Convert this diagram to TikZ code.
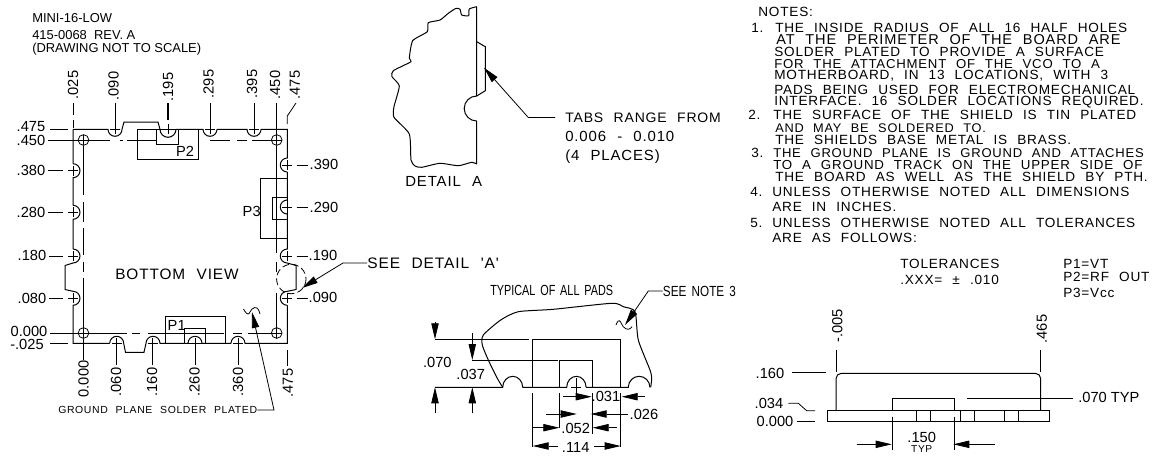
\documentclass[tikz,border=0pt]{standalone}
\usepackage{fontspec}
\usepackage{tikz}
\usetikzlibrary{arrows.meta}
\setmainfont{Liberation Sans}
\newfontfamily\cadfont[FakeStretch=1.02,LetterSpace=6,WordSpace=2.2]{Liberation Sans}
\newfontfamily\cadnarrow[FakeStretch=0.74,WordSpace=1.6]{Liberation Sans}
\newfontfamily\cadmid[FakeStretch=0.8,WordSpace=1.6]{Liberation Sans}
\tikzset{%
    outline/.style={line width=0.75pt},
    dimline/.style={line width=0.6pt},
    leader/.style={line width=0.6pt,-{Triangle[length=12pt,width=5.5pt]}},
    num/.style={inner sep=0pt,font=\fontsize{11}{11}\selectfont},
    numup/.style={num,rotate=90},
    cad/.style={anchor=west,inner sep=0pt,font=\cadfont\fontsize{#1}{#1}\selectfont},
    cad/.default=10,
    cadsmall/.style={anchor=west,inner sep=0pt,font=\cadnarrow\fontsize{11}{11}\selectfont},
    heading/.style={anchor=west,inner sep=0pt,font=\fontsize{9.7}{9.7}\selectfont},
}
\newcommand{\padcross}[2]{%
    \draw[dimline] (#1-5,#2)--(#1+5,#2);
    \draw[dimline] (#1,#2-5)--(#1,#2+5);
}
\begin{document}
\begin{tikzpicture}[x=0.75pt,y=-0.75pt]
    \useasboundingbox (0,0) rectangle (1154,455);
    % heading
    \node[heading] (title1) at (32,18) {MINI-16-LOW};
    \node[heading] (title2) at (32,35) {415-0068\ \ REV. A};
    \node[heading] (title3) at (32,49) {(DRAWING NOT TO SCALE)};

    % board outline, bottom view
    \draw[outline] (73,129.3)--(108,129.3) arc[start angle=180,end angle=0,radius=7]
        (122,129.3)--(124,122)--(158,122)--(160,129.3) arc[start angle=180,end angle=0,radius=8]
        (176,129.3)--(203,129.3) arc[start angle=180,end angle=0,radius=7]
        (217,129.3)--(247,129.3) arc[start angle=180,end angle=0,radius=7]
        (261,129.3)--(287.3,129.3)--(287.3,158) arc[start angle=270,end angle=90,radius=7]
        (287.3,172)--(287.3,200) arc[start angle=270,end angle=90,radius=7]
        (287.3,214)--(287.3,249) arc[start angle=270,end angle=90,radius=7]
        (287.3,263)--(296,265.5)--(296,289.5)--(287.3,291.3) arc[start angle=270,end angle=90,radius=7]
        (287.3,305.3)--(287.3,343.3)--(245,343.3) arc[start angle=0,end angle=-180,radius=7]
        (231,343.3)--(202,343.3) arc[start angle=0,end angle=-180,radius=7]
        (188,343.3)--(160,343.3) arc[start angle=0,end angle=-180,radius=7]
        (146,343.3)--(144,352.3)--(125.5,352.3)--(123.7,343.3) arc[start angle=0,end angle=-180,radius=7]
        (109.7,343.3)--(73,343.3)--(73,305.3) arc[start angle=90,end angle=-90,radius=7]
        (73,291.3)--(65,289.5)--(65,265.5)--(73,263) arc[start angle=90,end angle=-90,radius=7]
        (73,249)--(73,219.3) arc[start angle=90,end angle=-90,radius=7]
        (73,205.3)--(73,177.7) arc[start angle=90,end angle=-90,radius=7]
        (73,163.7)--(73,129.3);
    % inner lines
    \draw[dimline] (48,140)--(78,140) (89,140)--(110,140) (120,140)--(123,140) (127,140)--(157,140)
        (210,140)--(230,140) (237,140)--(247,140) (252,140)--(271,140);
    \draw[dimline] (83.5,145.5)--(83.5,195) (83.5,202)--(83.5,222) (83.5,228)--(83.5,255) (83.5,262)--(83.5,272) (83.5,278)--(83.5,327.5);
    \draw[dimline] (276.7,103)--(276.7,134.5) (276.7,145.5)--(276.7,253) (276.7,262)--(276.7,272) (276.7,293)--(276.7,327.5);
    \draw[dimline] (50,333)--(78,333) (89,333)--(127,333) (132,333)--(140,333) (148,333)--(224,333) (233,333)--(242,333) (248,333)--(271,333);
    \draw[dimline] (83.5,338.5)--(83.5,360);
    % corner holes
    \node[circle,draw,line width=0.6pt,minimum size=8pt,inner sep=0pt] (holeA) at (83.5,140) {};
    \node[circle,draw,line width=0.6pt,minimum size=8pt,inner sep=0pt] (holeB) at (276.7,140) {};
    \node[circle,draw,line width=0.6pt,minimum size=8pt,inner sep=0pt] (holeC) at (83.5,333) {};
    \node[circle,draw,line width=0.6pt,minimum size=8pt,inner sep=0pt] (holeD) at (276.7,333) {};
    \padcross{83.5}{140} \padcross{276.7}{140} \padcross{83.5}{333} \padcross{276.7}{333}
    % half hole crosses
    \padcross{115}{129.3} \padcross{168}{129.3} \padcross{210.3}{129.3} \padcross{254}{129.3}
    \padcross{73}{170.7} \padcross{73}{212.3} \padcross{73}{256} \padcross{73}{298.3}
    \padcross{287.3}{165} \padcross{287.3}{207} \padcross{287.3}{256} \padcross{287.3}{298.3}
    \padcross{116.7}{343.3} \padcross{152.7}{343.3} \padcross{195}{343.3} \padcross{238}{343.3}
    % pad boxes
    \draw[outline] (137.3,129.3) rectangle (198.3,159.3);
    \draw[outline] (156.7,129.3) rectangle (178.3,144.3);
    \draw[outline] (260.7,178.3) rectangle (287.3,238.3);
    \draw[outline] (272.3,197.7) rectangle (287.3,219);
    \draw[outline] (165,316.7) rectangle (225,343.3);
    \draw[outline] (184.3,328.3) rectangle (205.7,343.3);
    \node[num] (pP2) at (185,151.7) {P2};
    \node[num] (pP3) at (251.7,211.7) {P3};
    \node[num] (pP1) at (176.7,325) {P1};
    % top dimensions
    \draw[dimline] (73,103)--(73,115) (73,120)--(73,128);
    \draw[dimline] (115,103)--(115,124) (210.3,103)--(210.3,124) (254,103)--(254,124);
    \draw[line width=1.1pt] (168,103)--(168,120);
    \draw[dimline] (296,103)--(287.3,116)--(287.3,124);
    \node[numup] (t025) at (73,85) {.025};
    \node[numup] (t090) at (113.5,86) {.090};
    \node[numup] (t195) at (168,87) {.195};
    \node[numup] (t295) at (208.5,84) {.295};
    \node[numup] (t395) at (252,84) {.395};
    \node[numup] (t450) at (275,85) {.450};
    \node[numup] (t475) at (295,85) {.475};
    % left dimensions
    \draw[dimline] (50,129.3)--(68,129.3) (48,170.7)--(63,170.7) (48,212.3)--(63,212.3) (49,256)--(63,256) (49,298.3)--(63,298.3) (50,343.3)--(68,343.3);
    \node[num] (l475) at (31,127) {.475};
    \node[num] (l450) at (31,140) {.450};
    \node[num] (l380) at (31,170) {.380};
    \node[num] (l280) at (31,212) {.280};
    \node[num] (l180) at (32,255) {.180};
    \node[num] (l080) at (32,298) {.080};
    \node[num] (l000) at (29,331) {0.000};
    \node[num] (l025) at (27,344) {-.025};
    % right dimensions
    \draw[dimline] (296.7,165)--(308,165) (296.7,207)--(308,207) (296.7,256)--(308,256) (296.7,298.3)--(308,298.3);
    \node[num] (r390) at (324,164) {.390};
    \node[num] (r290) at (324,207) {.290};
    \node[num] (r190) at (323,255) {.190};
    \node[num] (r090) at (323,297) {.090};
    % bottom dimensions
    \draw[dimline] (116.7,348)--(116.7,365) (152.7,348)--(152.7,365) (195,348)--(195,365) (238,348)--(238,365) (287.3,350)--(287.3,366);
    \node[numup] (b000) at (83.5,379) {0.000};
    \node[numup] (b060) at (116,382) {.060};
    \node[numup] (b160) at (152,382) {.160};
    \node[numup] (b260) at (194.5,382) {.260};
    \node[numup] (b360) at (238,382) {.360};
    \node[numup] (b475) at (288,383) {.475};
    % view labels
    \node[cad=11.3] (bottomview) at (115,274) {BOTTOM VIEW};
    \node[cad=7.7] (groundplane) at (58,410) {GROUND PLANE SOLDER PLATED};
    \draw[leader] (groundplane.east)--(274,410)--(252,312);
    \draw[dimline] plot[smooth,tension=0.8] coordinates {(243.5,309) (248,314) (252,309) (257,308) (260,314)};
    \draw[dimline,dash pattern=on 5pt off 2.5pt] (291.3,279) circle (14.7);
    \node[cad=11.4] (seedetail) at (367,263) {SEE DETAIL 'A'};
    \draw[leader] (seedetail.west)--(343,263)--(302,288);

    % detail A
    \draw[outline] plot[smooth,tension=0.35] coordinates {(476.7,6.7) (469.3,9) (468.7,15.7) (461.7,15) (460,9.3) (456,8.3) (448.3,13.3) (440,20) (428.3,22.7) (427.3,31.7) (412.7,40.7) (409.3,58.3) (411,61.7) (393.3,70.7) (392,76.7) (399.3,86) (394,106.7) (394,117.3) (409.3,134) (411,160) (415,166) (421.7,167.3) (440,163.3) (458.3,165.7) (471.7,162.3) (476.7,164)};
    \draw[outline] (476.7,6.7)--(476.7,96) arc[start angle=270,end angle=90,radius=12.5]
        (476.7,121)--(476.7,164);
    \draw[outline] (476.7,41.7)--(485.3,46.7)--(485.3,90.7)--(476.7,96);
    \node[cad=10.3] (tabs1) at (565,118) {TABS RANGE FROM};
    \node[cad=11] (tabs2) at (565,136.7) {0.006 - 0.010};
    \node[cad=11] (tabs3) at (565,156.7) {(4 PLACES)};
    \draw[leader] (555,117.5)--(528.3,117.5)--(484,67.7);
    \node[cad=11] (detaila) at (405,181.7) {DETAIL A};

    % typical pad
    \node[cadsmall] (typical) at (490,290) {TYPICAL OF ALL PADS};
    \node[cadsmall,font=\cadmid\fontsize{11}{11}\selectfont] (seenote) at (662.7,291) {SEE NOTE 3};
    \draw[leader] (seenote.west)--(648.3,291)--(625,325);
    \draw[dimline] plot[smooth,tension=0.8] coordinates {(616,325) (619.3,320.7) (623.3,326.7) (628.3,329.3) (632,326.7)};
    \draw[outline] plot[smooth,tension=0.4] coordinates {(502.7,387.3) (497.3,378.3) (488.3,360) (482.3,345) (483.3,335) (500.7,320) (518.3,311.7) (553.3,309.3) (611.7,303.3) (623.3,306.7) (635,311.7) (638.3,340) (650,370) (651.7,378.3) (650.7,387.3)};
    \draw[outline] (435,387.3)--(502.7,387.3) arc[start angle=180,end angle=360,x radius=10,y radius=11]
        (522.7,387.3)--(566.7,387.3) arc[start angle=180,end angle=360,x radius=9.7,y radius=11]
        (586,387.3)--(628.3,387.3) arc[start angle=180,end angle=360,x radius=10.8,y radius=11];
    \draw[outline] (532.7,387.3)--(532.7,339.3)--(620.7,339.3)--(620.7,387.3);
    \draw[outline] (559.3,387.3)--(559.3,360)--(592.7,360)--(592.7,387.3);
    \draw[dimline] (435,339.3)--(529,339.3) (472.3,360)--(558,360);
    \draw[dimline] (576.3,378)--(576.3,398) (571,387.3)--(581,387.3);
    \draw[dimline] (532.7,393)--(532.7,447) (620.7,393)--(620.7,447) (592.7,393)--(592.7,434) (559.3,393)--(559.3,428);
    \draw[leader] (435,321.7)--(435,339.3);
    \draw[leader] (435,413.3)--(435,387.3);
    \draw[leader] (472.3,333.3)--(472.3,360);
    \draw[leader] (472.3,413.3)--(472.3,387.3);
    \draw[leader] (563.3,396.7)--(591.7,396.7);
    \draw[leader] (645,396.7)--(621.7,396.7);
    \draw[leader] (546,414)--(576.7,414);
    \draw[leader] (628.3,414)--(590.7,414);
    \draw[leader] (533,427.7)--(559.3,427.7);
    \draw[leader] (616.7,427.7)--(592.7,427.7);
    \draw[leader] (558.3,446)--(532.7,446);
    \draw[leader] (594,446)--(620.7,446);
    \node[num] (p070) at (437.3,362.7) {.070};
    \node[num] (p037) at (470.7,374) {.037};
    \node[num] (p031) at (606,396.7) {.031};
    \node[num] (p026) at (644,414) {.026};
    \node[num] (p052) at (575.7,428.7) {.052};
    \node[num] (p114) at (575.7,447) {.114};

    % notes
    \node[cad] (notes) at (758,12) {NOTES:};
    \node[cad] (n1) at (751,28) {1.};
    \node[cad] (n1a) at (775,28) {THE INSIDE RADIUS OF ALL 16 HALF HOLES};
    \node[cad=10.7] (n1b) at (776,40) {AT THE PERIMETER OF THE BOARD ARE};
    \node[cad] (n1c) at (774,52) {SOLDER PLATED TO PROVIDE A SURFACE};
    \node[cad=9.7] (n1d) at (774,64) {FOR THE ATTACHMENT OF THE VCO TO A};
    \node[cad] (n1e) at (774,76) {MOTHERBOARD, IN 13 LOCATIONS, WITH 3};
    \node[cad] (n1f) at (774,90) {PADS BEING USED FOR ELECTROMECHANICAL};
    \node[cad] (n1g) at (774,102) {INTERFACE. 16 SOLDER LOCATIONS REQUIRED.};
    \node[cad] (n2) at (748,115) {2.};
    \node[cad] (n2a) at (773,115) {THE SURFACE OF THE SHIELD IS TIN PLATED};
    \node[cad=9.4] (n2b) at (775,128) {AND MAY BE SOLDERED TO.};
    \node[cad] (n2c) at (775,140) {THE SHIELDS BASE METAL IS BRASS.};
    \node[cad] (n3) at (751,153) {3.};
    \node[cad=9.6] (n3a) at (773,153) {THE GROUND PLANE IS GROUND AND ATTACHES};
    \node[cad=9.8] (n3b) at (773,165) {TO A GROUND TRACK ON THE UPPER SIDE OF};
    \node[cad] (n3c) at (775,177) {THE BOARD AS WELL AS THE SHIELD BY PTH.};
    \node[cad] (n4) at (750,192) {4.};
    \node[cad] (n4a) at (772,192) {UNLESS OTHERWISE NOTED ALL DIMENSIONS};
    \node[cad] (n4b) at (772,207) {ARE IN INCHES.};
    \node[cad] (n5) at (750,223) {5.};
    \node[cad] (n5a) at (772,223) {UNLESS OTHERWISE NOTED ALL TOLERANCES};
    \node[cad] (n5b) at (772,238) {ARE AS FOLLOWS:};
    \node[cad] (tol1) at (900,264) {TOLERANCES};
    \node[cad] (tol2) at (900,280) {.XXX= ± .010};
    \node[cad] (pin1) at (1063,264) {P1=VT};
    \node[cad] (pin2) at (1063,277) {P2=RF OUT};
    \node[cad] (pin3) at (1063,293) {P3=Vcc};

    % side view
    \draw[outline] (827.3,410.7) rectangle (1049.3,421.3);
    \draw[dimline] (916.7,410.7)--(916.7,421.3) (930.3,410.7)--(930.3,421.3) (960.3,410.7)--(960.3,421.3) (974.3,410.7)--(974.3,421.3) (1004.3,410.7)--(1004.3,421.3) (1018,410.7)--(1018,421.3);
    \draw[outline] (892.3,410.7)--(892.3,398.3)--(954.3,398.3)--(954.3,410.7);
    \draw[outline,rounded corners=4pt] (836,410.7)--(836,373.3)--(1040.7,373.3)--(1040.7,410.7);
    \draw[dimline] (836,350)--(836,371.7) (1040.7,350)--(1040.7,371.7);
    \draw[dimline] (892.3,416.7)--(892.3,450) (954.3,416.7)--(954.3,450);
    \draw[dimline] (791.7,372.7)--(826,372.7);
    \draw[dimline] (788.3,403.3)--(798.3,403.3)--(806.7,410.7)--(815,410.7);
    \draw[dimline] (796.7,421.3)--(815,421.3);
    \draw[dimline] (967.3,398.3)--(1072.7,398.3);
    \draw[leader] (856.7,444.3)--(891.7,444.3);
    \draw[leader] (995,444.3)--(953.3,444.3);
    \node[numup] (s005) at (837.3,326) {-.005};
    \node[numup] (s465) at (1041.7,329) {.465};
    \node[num] (s160) at (770,373) {.160};
    \node[num] (s034) at (769,403) {.034};
    \node[num] (s000) at (775,421) {0.000};
    \node[num,anchor=west] (s070) at (1078,397) {.070 TYP};
    \node[num] (s150) at (921.7,437.7) {.150};
    \node[cad=7.5,anchor=center] (styp) at (921.7,449) {TYP};
\end{tikzpicture}
\end{document}
